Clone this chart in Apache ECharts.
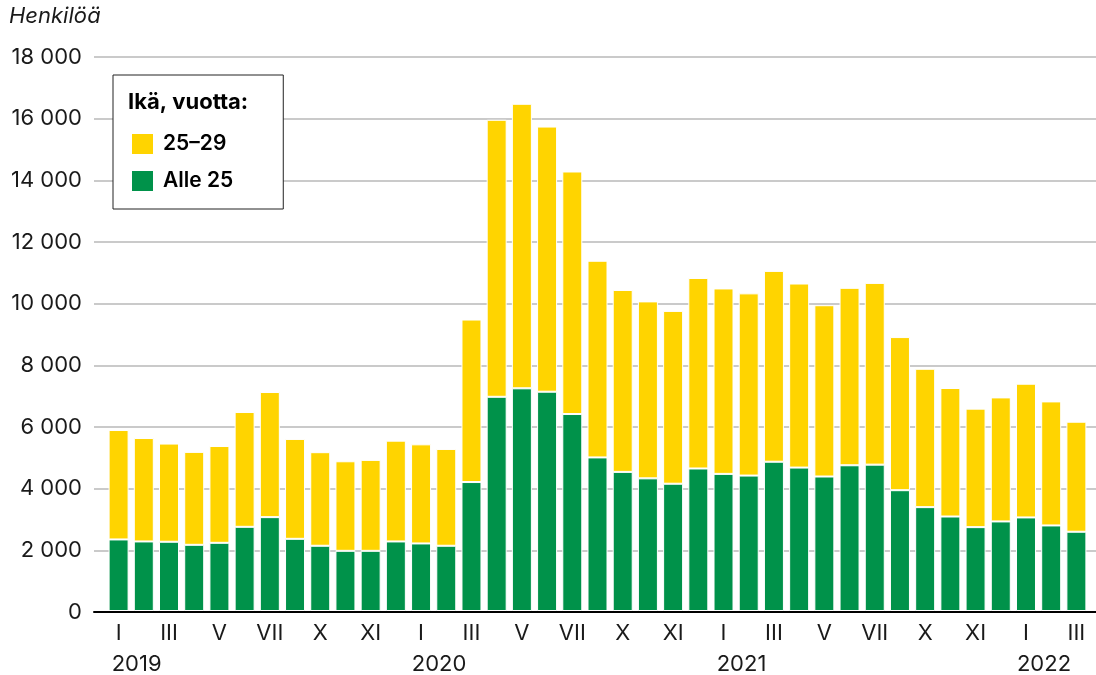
<!DOCTYPE html>
<html>
<head>
<meta charset="utf-8">
<script src="https://cdn.jsdelivr.net/npm/echarts@6/dist/echarts.min.js"></script>
<style>
  html, body { margin: 0; padding: 0; background: #fff; }
  #chart { width: 1096px; height: 675px; }
</style>
</head>
<body>
<div id="chart"></div>
<script>
// Kuukaudet 2019 I – 2022 III
const months = [
    'I','II','III','IV','V','VI','VII','VIII','IX','X','XI','XII',
    'I','II','III','IV','V','VI','VII','VIII','IX','X','XI','XII',
    'I','II','III','IV','V','VI','VII','VIII','IX','X','XI','XII',
    'I','II','III'
];
// näkyvät x-akselin nimikkeet (joka toinen kuukausi)
const monthLabels = [
    'I','','III','','V','','VII','','X','','XI','',
    'I','','III','','V','','VII','','X','','XI','',
    'I','','III','','V','','VII','','X','','XI','',
    'I','','III'
];
const yearLabels = [
    '2019','','','','','','','','','','','',
    '2020','','','','','','','','','','','',
    '2021','','','','','','','','','','','',
    '2022','',''
];

// Alle 25-vuotiaat
const alle25 = [
    2325, 2260, 2250, 2150, 2215, 2735, 3050, 2345, 2120, 1955, 1955, 2260,
    2195, 2120, 4190, 6960, 7235, 7125, 6400, 4990, 4520, 4310, 4135, 4630,
    4455, 4400, 4850, 4660, 4370, 4735, 4755, 3925, 3375, 3070, 2725, 2910,
    3040, 2780, 2575
];
// 25–29-vuotiaat
const ika25_29 = [
    3555, 3360, 3190, 3020, 3145, 3730, 4065, 3245, 3040, 2910, 2955, 3275,
    3220, 3145, 5280, 9000, 9245, 8615, 7880, 6390, 5910, 5750, 5615, 6190,
    6025, 5920, 6200, 5980, 5565, 5765, 5905, 4975, 4495, 4175, 3850, 4030,
    4345, 4030, 3575
];

const FONT = 'Inter, "Liberation Sans", sans-serif';
const TXT = '#1a1a1a';

function thousands(v) {
    return String(v).replace(/\B(?=(\d{3})+(?!\d))/g, ' ');
}

const chart = echarts.init(document.getElementById('chart'));
const option = {
    animation: false,
    textStyle: { fontFamily: FONT },
    title: [
        {
            text: 'Henkilöä', left: 9, top: 5, padding: 0,
            textStyle: { fontFamily: FONT, fontSize: 22, fontStyle: 'italic', fontWeight: 'normal', color: TXT }
        },
        {
            text: 'Ikä, vuotta:', left: 128, top: 91, padding: 0,
            textStyle: { fontFamily: FONT, fontSize: 22, fontWeight: 'bold', color: '#000' }
        }
    ],
    legend: {
        orient: 'vertical',
        left: 113, top: 75,
        data: ['25–29', 'Alle 25'],
        icon: 'rect',
        itemWidth: 23, itemHeight: 22, itemGap: 13,
        padding: [57, 50, 16, 17],
        borderColor: '#222', borderWidth: 1,
        backgroundColor: '#fff',
        selectedMode: false,
        textStyle: { fontFamily: FONT, fontSize: 21, fontWeight: 600, color: '#000', padding: [0, 0, 0, 4] }
    },
    grid: [
        { left: 94, right: 0, top: 57, bottom: 63 },   // taustaviivat
        { left: 106, right: 7, top: 57, bottom: 63 }   // pylväät
    ],
    xAxis: [
        {
            gridIndex: 0, type: 'value', min: 0, max: 1,
            axisLine: { show: true, lineStyle: { color: '#000', width: 2 } },
            axisTick: { show: false }, axisLabel: { show: false }, splitLine: { show: false }
        },
        {
            gridIndex: 1, type: 'category', data: months,
            axisLine: { show: false }, axisTick: { show: false },
            axisLabel: {
                interval: 0, margin: 11, fontSize: 22, color: TXT, fontFamily: FONT,
                formatter: (v, i) => monthLabels[i]
            }
        },
        {
            gridIndex: 1, type: 'category', data: months, position: 'bottom', offset: 31,
            axisLine: { show: false }, axisTick: { show: false },
            axisLabel: {
                interval: 0, margin: 11, fontSize: 22, color: TXT, fontFamily: FONT,
                padding: [0, 0, 0, 36],
                formatter: (v, i) => yearLabels[i]
            }
        }
    ],
    yAxis: [
        {
            gridIndex: 0, type: 'value', min: 0, max: 18000, interval: 2000,
            axisLine: { show: false }, axisTick: { show: false },
            axisLabel: { fontSize: 22, color: TXT, margin: 12, fontFamily: FONT, formatter: thousands },
            splitLine: { lineStyle: { color: '#b8b8b8', width: 1.5 } }
        },
        { gridIndex: 1, type: 'value', min: 0, max: 18000, show: false }
    ],
    series: [
        {
            name: 'Alle 25', type: 'bar', stack: 'ika',
            xAxisIndex: 1, yAxisIndex: 1,
            barWidth: 20,
            itemStyle: { color: '#00924A', borderColor: '#fff', borderWidth: 1 },
            data: alle25
        },
        {
            name: '25–29', type: 'bar', stack: 'ika',
            xAxisIndex: 1, yAxisIndex: 1,
            barWidth: 20,
            itemStyle: { color: '#FFD400', borderColor: '#fff', borderWidth: 1 },
            data: ika25_29
        }
    ]
};
chart.setOption(option);
</script>
</body>
</html>
